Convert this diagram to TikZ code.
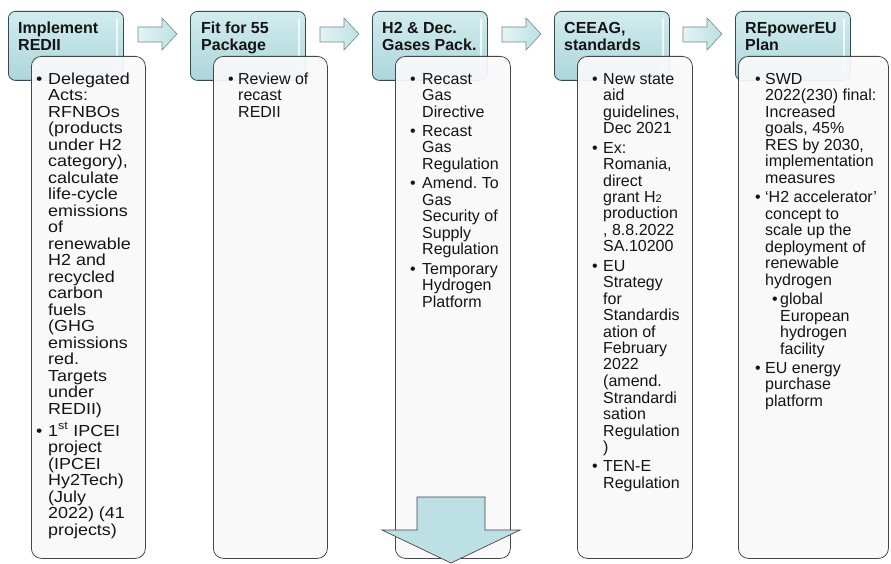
\documentclass[tikz,border=0pt]{standalone}
\usepackage{fontspec}
\setmainfont{Liberation Sans}
\newfontfamily\widefont[FakeStretch=1.12]{Liberation Sans}
\frenchspacing
\newcommand\blt[1]{\makebox[#1][l]{•}}
\newcommand\subtwo{{\fontsize{11}{11}\selectfont 2}}
\definecolor{hdrtop}{RGB}{210,236,238}
\definecolor{hdrbot}{RGB}{172,214,219}
\definecolor{hdrline}{RGB}{55,75,78}
\definecolor{boxfill}{RGB}{249,249,249}
\definecolor{boxline}{RGB}{70,70,70}
\definecolor{arrL}{RGB}{228,243,244}
\definecolor{arrR}{RGB}{188,225,228}
\definecolor{arrline}{RGB}{120,135,138}
\definecolor{downfill}{RGB}{188,224,228}
\definecolor{txtcol}{RGB}{20,20,20}
\begin{document}
\begin{tikzpicture}[x=1pt,y=-1pt,
  hdr/.style={draw=hdrline, line width=0.8pt, rounded corners=7pt, top color=hdrtop, bottom color=hdrbot,
    minimum width=115pt, minimum height=69pt, anchor=north west, inner sep=0pt},
  tbox/.style={draw=boxline, line width=0.8pt, rounded corners=10pt, fill=boxfill, fill opacity=0.93,
    anchor=north west, inner sep=0pt},
  hdrtxt/.style={anchor=north west, inner sep=0pt, text=txtcol, font=\fontsize{16}{17}\selectfont\bfseries},
  txt/.style={anchor=north west, inner sep=0pt, text=txtcol, font=\fontsize{16}{16.4}\selectfont},
  rarrow/.style={draw=arrline, line width=0.6pt, left color=arrL, right color=arrR},
  darrow/.style={draw=boxline, line width=0.7pt, fill=downfill},
  gloss/.style={draw=white, line width=1.2pt, opacity=0.75}
]
\useasboundingbox (0,0) rectangle (891,564);

% header boxes
\node[hdr] (h1) at (8,11) {};
\node[hdr] (h2) at (190,11) {};
\node[hdr] (h3) at (372,11) {};
\node[hdr] (h4) at (554,11) {};
\node[hdr] (h5) at (735,11) {};
\foreach \L in {8,190,372,554,735} {
  \draw[gloss] (\L+109,19) -- (\L+109,72);
}
\node[hdrtxt] (ht1) at (18,21.4) {\begin{tabular}{@{}l@{}}Implement\\REDII\end{tabular}};
\node[hdrtxt] (ht2) at (201,21.4) {\begin{tabular}{@{}l@{}}Fit for 55\\Package\end{tabular}};
\node[hdrtxt] (ht3) at (382,21.4) {\begin{tabular}{@{}l@{}}H2 \& Dec.\\Gases Pack.\end{tabular}};
\node[hdrtxt] (ht4) at (564,21.4) {\begin{tabular}{@{}l@{}}CEEAG,\\standards\end{tabular}};
\node[hdrtxt] (ht5) at (745,21.4) {\begin{tabular}{@{}l@{}}REpowerEU\\Plan\end{tabular}};

% right arrows
\foreach \A in {138,320,502,683} {
  \path[rarrow] (\A,27) -- (\A+24,27) -- (\A+24,18) -- (\A+39,34) -- (\A+24,50) -- (\A+24,42) -- (\A,42) -- cycle;
}

% text boxes
\node[tbox, minimum width=114pt, minimum height=502pt] (t1) at (31,56) {};
\node[tbox, minimum width=114pt, minimum height=502pt] (t2) at (213,56) {};
\node[tbox, minimum width=115pt, minimum height=502pt] (t3) at (395,56) {};
\node[tbox, minimum width=115pt, minimum height=502pt] (t4) at (577,56) {};
\node[tbox, minimum width=150pt, minimum height=502pt] (t5) at (738,56) {};

% texts
\node[txt, font=\fontsize{16}{16.4}\selectfont\widefont] (c1) at (36,72.5) {\begin{tabular}{@{}l@{}l@{}}
\blt{12pt} & Delegated\\
& Acts:\\
& RFNBOs\\
& (products\\
& under H2\\
& category),\\
& calculate\\
& life-cycle\\
& emissions\\
& of\\
& renewable\\
& H2 and\\
& recycled\\
& carbon\\
& fuels\\
& (GHG\\
& emissions\\
& red.\\
& Targets\\
& under\\
& REDII)\\[3.5pt]
\blt{12pt} & 1\textsuperscript{st} IPCEI\\
& project\\
& (IPCEI\\
& Hy2Tech)\\
& (July\\
& 2022) (41\\
& projects)
\end{tabular}};

\node[txt] (c2) at (228,72.5) {\begin{tabular}{@{}l@{}l@{}}
\blt{10pt} & Review of\\
& recast\\
& REDII
\end{tabular}};

\node[txt] (c3) at (410,72.5) {\begin{tabular}{@{}l@{}l@{}}
\blt{12pt} & Recast\\
& Gas\\
& Directive\\[3pt]
\blt{12pt} & Recast\\
& Gas\\
& Regulation\\[3pt]
\blt{12pt} & Amend. To\\
& Gas\\
& Security of\\
& Supply\\
& Regulation\\[3pt]
\blt{12pt} & Temporary\\
& Hydrogen\\
& Platform
\end{tabular}};

\node[txt] (c4) at (592,72.5) {\begin{tabular}{@{}l@{}l@{}}
\blt{11pt} & New state\\
& aid\\
& guidelines,\\
& Dec 2021\\[3pt]
\blt{11pt} & Ex:\\
& Romania,\\
& direct\\
& grant H\subtwo\\
& production\\
& , 8.8.2022\\
& SA.10200\\[3pt]
\blt{11pt} & EU\\
& Strategy\\
& for\\
& Standardis\\
& ation of\\
& February\\
& 2022\\
& (amend.\\
& Strandardi\\
& sation\\
& Regulation\\
& )\\[3pt]
\blt{11pt} & TEN-E\\
& Regulation
\end{tabular}};

\node[txt] (c5) at (755,72.5) {\begin{tabular}{@{}l@{}l@{}}
\blt{10pt} & SWD\\
& 2022(230) final:\\
& Increased\\
& goals, 45\%\\
& RES by 2030,\\
& implementation\\
& measures\\[3pt]
\blt{10pt} & ‘H2 accelerator’\\
& concept to\\
& scale up the\\
& deployment of\\
& renewable\\
& hydrogen\\[3pt]
& \hspace{7pt}\blt{8pt}global\\
& \hspace{15pt}European\\
& \hspace{15pt}hydrogen\\
& \hspace{15pt}facility\\[3pt]
\blt{10pt} & EU energy\\
& purchase\\
& platform
\end{tabular}};

% down arrow
\path[darrow] (417,497) -- (485,497) -- (485,530) -- (520,530) -- (451,563) -- (382,530) -- (417,530) -- cycle;
\end{tikzpicture}
\end{document}
